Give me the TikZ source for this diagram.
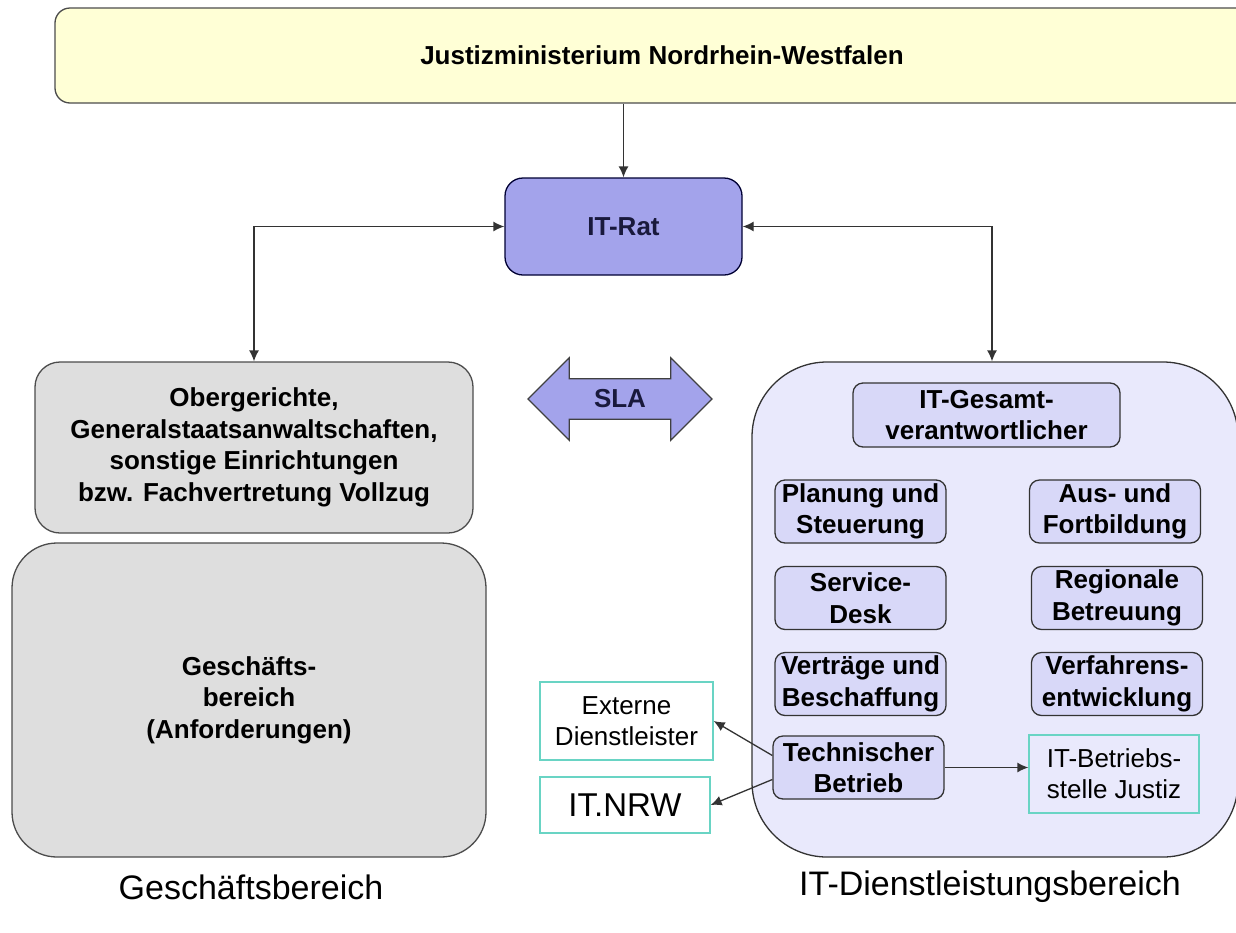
\documentclass[tikz,border=0pt]{standalone}
\usepackage{fontspec}
\setmainfont{Liberation Sans}
\usetikzlibrary{shapes.arrows,arrows.meta}

\definecolor{jmgelb}{RGB}{255,255,214}
\definecolor{ratblau}{RGB}{163,163,235}
\definecolor{gbgrau}{RGB}{222,222,222}
\definecolor{dlflieder}{RGB}{233,233,252}
\definecolor{abtflieder}{RGB}{216,216,248}
\definecolor{tuerkis}{RGB}{105,212,196}

\begin{document}
\begin{tikzpicture}[x=1pt,y=-1pt,
  box/.style={draw=black!70,line width=1.3pt,rounded corners=#1,align=center,inner sep=0pt,
    font=\fontsize{26}{31.5}\selectfont\bfseries},
  box/.default=12pt,
  abt/.style={box=10pt,fill=abtflieder,draw=black!80,minimum width=171pt,minimum height=63pt},
  extern/.style={draw=tuerkis,line width=1.3pt,align=center,inner sep=0pt,
    font=\fontsize{26}{31}\selectfont},
  spitze/.tip={Latex[length=11pt,width=10pt]},
  pfeil/.style={line width=1.3pt,draw=black!80,-spitze},
  unten/.style={font=\fontsize{34}{40}\selectfont}]
\useasboundingbox (0,0) rectangle (1236,932);

% Ministerium und IT-Rat
\node[box=15pt,fill=jmgelb,minimum width=1214pt,minimum height=95pt] (jm) at (662,55.5) {Justizministerium Nordrhein-Westfalen};
\node[box=18pt,fill=ratblau,draw=black!80!blue,text={rgb,255:red,25;green,25;blue,60},minimum width=237pt,minimum height=97pt] (itrat) at (623.5,226.5) {IT-Rat};

% Geschaeftsbereich
\node[box=25pt,fill=gbgrau,minimum width=438pt,minimum height=171pt] (oberg) at (254,447.5) {Obergerichte,\\Generalstaatsanwaltschaften,\\sonstige Einrichtungen\\bzw. Fachvertretung Vollzug};
\node[box=45pt,fill=gbgrau,minimum width=474pt,minimum height=314pt] (gesch) at (249,700) {Geschäfts-\\bereich\\(Anforderungen)};

% SLA
\node[double arrow,draw=black!75,line width=1.2pt,fill=ratblau,minimum height=184pt,minimum width=82pt,
  double arrow head extend=21pt,inner xsep=4pt,inner ysep=10.5pt,
  font=\fontsize{26}{31}\selectfont\bfseries,text={rgb,255:red,25;green,25;blue,60}] (sla) at (620,399) {SLA};

% IT-Dienstleistungsbereich
\node[box=75pt,fill=dlflieder,draw=black!80,minimum width=486pt,minimum height=495pt] (itdl) at (995,609.5) {};
\node[abt,minimum width=267pt,minimum height=64pt] (gesamt) at (986.5,415) {IT-Gesamt-\\verantwortlicher};
\node[abt] (planung) at (860.5,511.5) {Planung und\\Steuerung};
\node[abt] (fortbildung) at (1115,511.5) {Aus- und\\Fortbildung};
\node[abt] (service) at (860.5,598) {Service-\\Desk};
\node[abt] (regional) at (1117,598) {Regionale\\Betreuung};
\node[abt] (vertraege) at (860.5,684) {Verträge und\\Beschaffung};
\node[abt] (verfahren) at (1117,684) {Verfahrens-\\entwicklung};
\node[abt] (technik) at (858.5,767.5) {Technischer\\Betrieb};
\node[extern,fill=dlflieder,align=left,minimum width=170pt,minimum height=78pt] (betrieb) at (1114,774) {IT-Betriebs-\\stelle Justiz};

% Dienstleister ausserhalb
\node[extern,fill=white,minimum width=173pt,minimum height=78pt] (externe) at (626.5,721) {Externe\\Dienstleister};
\node[extern,fill=white,minimum width=170pt,minimum height=56pt,font=\fontsize{33}{38}\selectfont] (itnrw) at (625,805) {IT.NRW};

\node[unten] (lgesch) at (251,887) {Geschäftsbereich};
\node[unten] (litdl) at (990,887) {IT-Dienstleistungsbereich};

\draw[pfeil] (itrat.north |- jm.south) -- (itrat.north);
\draw[pfeil,spitze-spitze] (itrat.west) -| (oberg.north);
\draw[pfeil,spitze-spitze] (itrat.east) -| ([xshift=-3pt]itdl.north);
\draw[pfeil] ([yshift=12pt]technik.west) -- (externe.east);
\draw[pfeil] ([yshift=-12pt]technik.west) -- (itnrw.east);
\draw[pfeil] (technik.east) -- (technik.east -| betrieb.west);
\end{tikzpicture}
\end{document}
